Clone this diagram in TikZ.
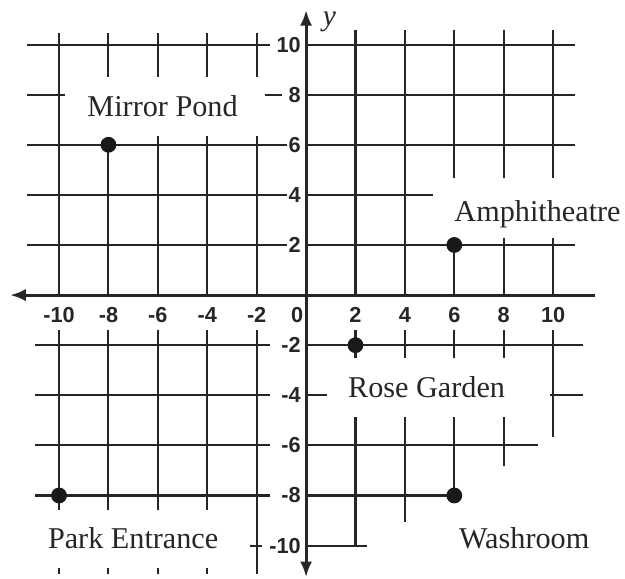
\documentclass[tikz,border=0pt]{standalone}
\usepackage{fontspec}
\setmainfont{Liberation Serif}
\setsansfont{Liberation Sans}
\usetikzlibrary{arrows.meta}

\begin{document}
\begin{tikzpicture}[x=0.5cm, y=0.507cm,
  gridln/.style={line width=1.2pt, black!85},
  axisln/.style={line width=1.7pt, black!85},
  tip/.style={-{Latex[length=9pt, width=7pt]}},
  num/.style={font=\sffamily\bfseries\fontsize{12.5}{14}\selectfont, text=black!85, inner sep=0pt},
  place/.style={font=\fontsize{17.4}{20}\selectfont, text=black!85, anchor=base, inner sep=0pt},
  dot/.style={circle, fill=black!90, inner sep=0pt, minimum size=3.2mm}]
  \useasboundingbox (-12.39,-11.30) rectangle (12.91,11.78);
  % 横线：y / 起点 / 终点（文字框处断开）
  \foreach \y/\a/\b in {10/-11.3/-1.46, 10/0/10.89,
      8/-11.3/-9.76, 8/-1.66/-0.97, 8/0/10.89,
      6/-11.3/-0.77, 6/0/10.89,
      4/-11.3/-0.77, 4/0/5.14,
      2/-11.3/-0.77, 2/0/10.89,
      -2/-10.97/-1.46, -2/0/11.21,
      -4/-10.97/-1.46, -4/0/0.85, -4/9.88/11.21,
      -6/-10.97/-1.46, -6/0/9.39,
      -8/-10.97/-1.46, -8/0/6,
      -10/-2.27/-1.78, -10/0/2.47}
    \draw[gridln] (\a,\y) -- (\b,\y);
  % 竖线：x / 上端 / 下端
  \foreach \x/\a/\b in {-10/10.46/0, -10/-1.4/-8.58, -10/-10.9/-11.15,
      -8/10.46/8.7, -8/6/0, -8/-1.4/-8.58, -8/-10.9/-11.15,
      -6/10.46/8.7, -6/6.35/0, -6/-1.4/-8.58, -6/-10.9/-11.15,
      -4/10.46/8.7, -4/6.35/0, -4/-1.4/-8.58, -4/-10.9/-11.15,
      -2/10.46/8.7, -2/6.35/0, -2/-1.4/-11.15,
      2/10.58/0, 2/-1.4/-2.51, 2/-4.87/-10.06,
      4/10.58/0, 4/-1.4/-2.51, 4/-4.87/-9.06,
      6/10.58/4.67, 6/2/0, 6/-1.4/-2.51, 6/-4.87/-8,
      8/10.58/4.67, 8/2.28/0, 8/-1.4/-2.51, 8/-4.87/-6.83,
      10/10.58/4.67, 10/2.28/0, 10/-1.4/-5.67}
    \draw[gridln] (\x,\a) -- (\x,\b);
  % 坐标轴
  \coordinate (xend) at (11.7,0);
  \coordinate (xtip) at (-11.98,0);
  \coordinate (ytop) at (0,11.38);
  \coordinate (ybot) at (0,-11.26);
  \coordinate (O) at (0,0);
  \draw[axisln, tip] (xend) -- (xtip);
  \draw[axisln, tip] (O) -- (ytop);
  \draw[axisln, tip] (O) -- (ybot);
  \node[font=\itshape\fontsize{17}{20}\selectfont, text=black!85, anchor=base, inner sep=0pt] (ylab) at (0.95,10.78) {y};
  % 刻度数字
  \foreach \x in {-10,-8,-6,-4,-2,2,4,6,8,10}
    \node[num] (xl\x) at (\x,-0.78) {\x};
  \node[num] (xl0) at (-0.36,-0.78) {0};
  \foreach \y in {10,8,6,4,2,-2,-4,-6,-8,-10}
    \node[num, anchor=east] (yl\y) at (-0.2,\y) {\y};
  % 地点
  \node[dot] (pond) at (-8,6) {};
  \node[dot] (amph) at (6,2) {};
  \node[dot] (rose) at (2,-2) {};
  \node[dot] (gate) at (-10,-8) {};
  \node[dot] (wash) at (6,-8) {};
  \node[place] (pondtxt) at (-5.81,7.11) {Mirror Pond};
  \node[place] (amphtxt) at (9.37,2.95) {Amphitheatre};
  \node[place] (rosetxt) at (4.88,-4.07) {Rose Garden};
  \node[place] (gatetxt) at (-7.0,-10.1) {Park Entrance};
  \node[place] (washtxt) at (8.83,-10.1) {Washroom};
\end{tikzpicture}
\end{document}
